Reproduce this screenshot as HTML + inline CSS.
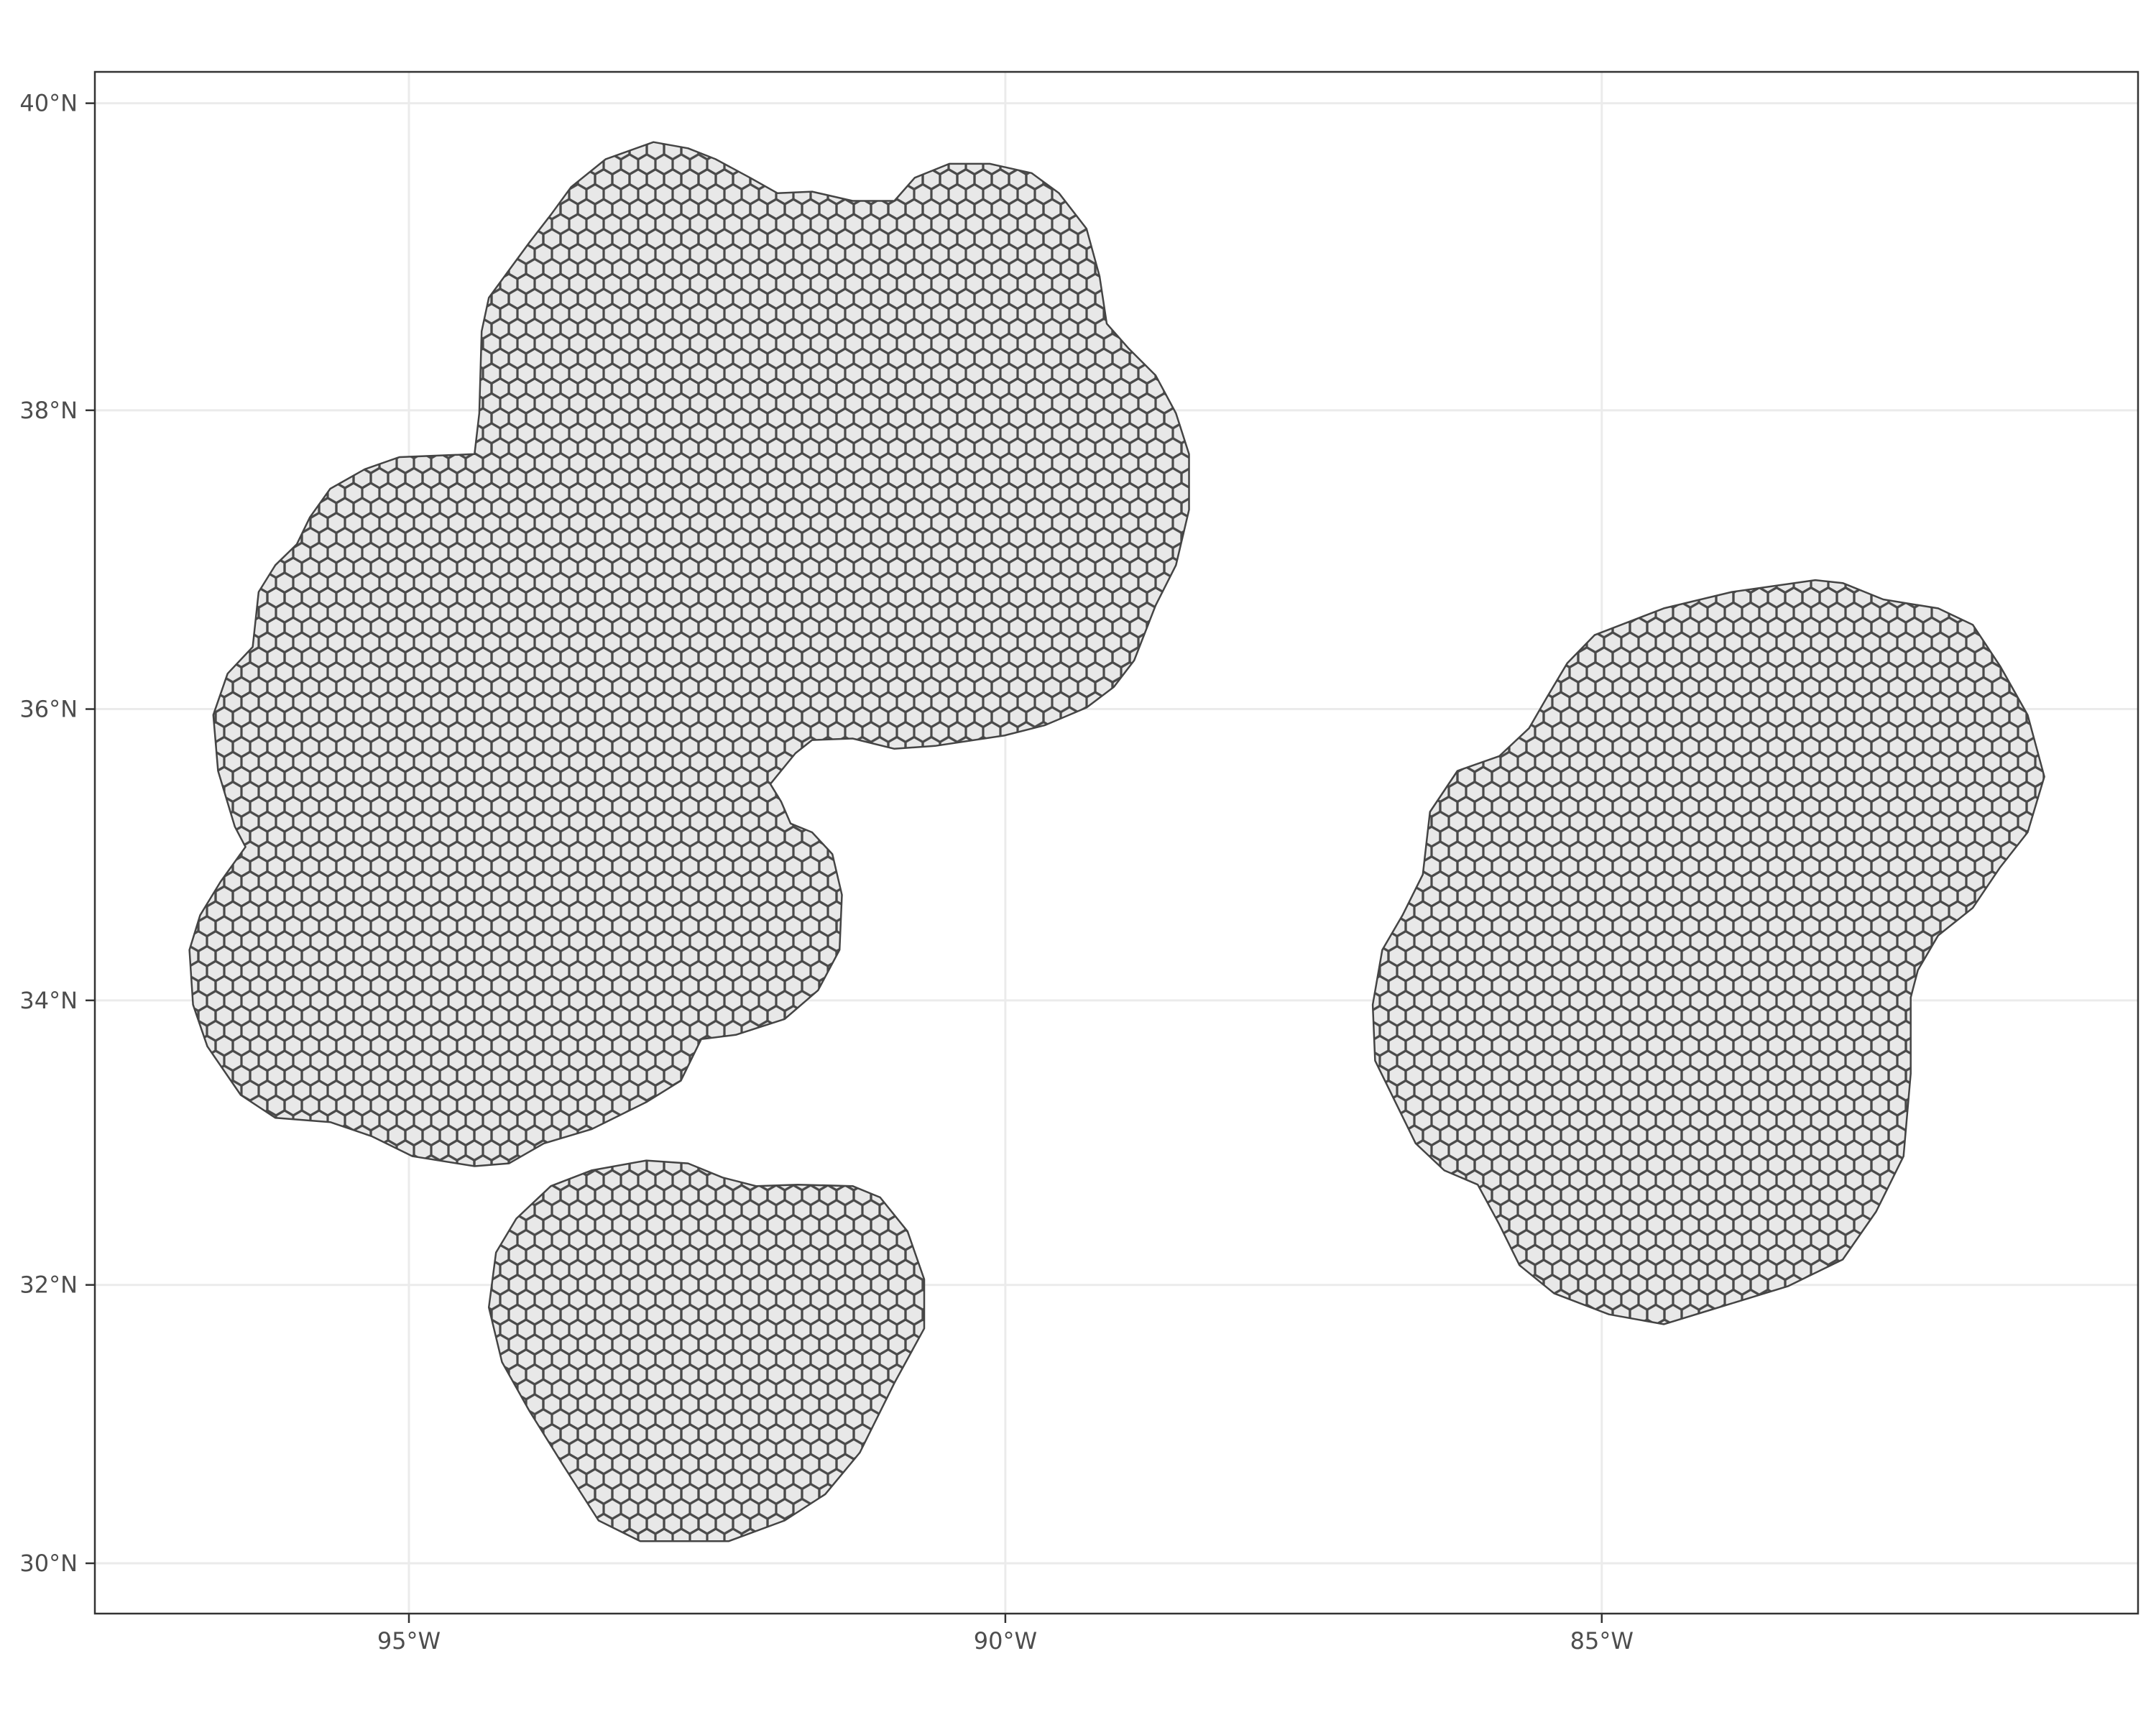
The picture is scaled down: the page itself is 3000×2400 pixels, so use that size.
<!DOCTYPE html>
<html><head><meta charset="utf-8"><style>
html,body{margin:0;padding:0;background:#fff;}
svg{display:block;font-family:"DejaVu Sans","Liberation Sans",sans-serif;}
</style></head><body>
<svg id="chart" width="3000" height="2400" viewBox="0 0 3000 2400" xmlns="http://www.w3.org/2000/svg">
<defs>
<pattern id="hexpat" patternUnits="userSpaceOnUse" width="24" height="41.57">
<rect width="24" height="41.57" fill="#e8e8e8"/>
<g fill="none" stroke="#4a4a4a" stroke-width="3.2">
<path id="hx" d="M0,-13.86 L12,-6.93 L12,6.93 L0,13.86 L-12,6.93 L-12,-6.93 Z"/>
<use href="#hx" x="24" y="0"/>
<use href="#hx" x="12" y="20.78"/>
<use href="#hx" x="0" y="41.57"/>
<use href="#hx" x="24" y="41.57"/>
</g>
</pattern>
</defs>
<rect width="3000" height="2400" fill="#fff"/>
<g id="grid"></g>
<g id="regions"></g>
<rect x="132" y="100" width="2843" height="2145" fill="none" stroke="#333" stroke-width="2.5"/>
<g id="axes"></g>
</svg>
<script>
const latTicks = [30, 32, 34, 36, 38, 40];
const latLabels = ["30°N","32°N","34°N","36°N","38°N","40°N"];
const lonTicks = [-95, -90, -85];
const lonLabels = ["95°W","90°W","85°W"];

const region1Lon = [-92.95,-93.35,-93.64,-93.81,-93.99,-94.16,-94.33,-94.39,-94.41,-94.45,-95.08,-95.37,-95.66,-95.83,-95.94,-96.12,-96.26,-96.31,-96.52,-96.64,-96.60,-96.46,-96.37,-96.58,-96.75,-96.84,-96.81,-96.69,-96.41,-96.12,-95.66,-95.31,-94.97,-94.45,-94.16,-93.87,-93.47,-93.01,-92.72,-92.55,-92.26,-91.85,-91.57,-91.39,-91.37,-91.45,-91.62,-91.80,-91.88,-91.97,-91.76,-91.62,-91.28,-90.93,-90.59,-90.01,-89.67,-89.32,-89.09,-88.92,-88.74,-88.57,-88.46,-88.46,-88.57,-88.74,-88.97,-89.15,-89.21,-89.32,-89.55,-89.78,-90.13,-90.47,-90.76,-90.93,-91.28,-91.62,-91.91,-92.14,-92.43,-92.66];
const region1Lat = [39.75,39.64,39.46,39.28,39.10,38.92,38.74,38.52,37.98,37.71,37.69,37.61,37.48,37.29,37.11,36.97,36.79,36.42,36.24,35.96,35.58,35.20,35.06,34.82,34.59,34.35,33.97,33.68,33.34,33.18,33.15,33.05,32.91,32.84,32.86,33.00,33.10,33.29,33.44,33.73,33.76,33.87,34.07,34.35,34.73,35.01,35.16,35.22,35.37,35.49,35.70,35.79,35.80,35.73,35.75,35.82,35.89,36.01,36.15,36.33,36.70,36.97,37.34,37.71,37.98,38.23,38.41,38.57,38.88,39.19,39.42,39.55,39.61,39.61,39.52,39.37,39.37,39.43,39.42,39.52,39.64,39.71];
const region2Lon = [-93.01,-93.47,-93.81,-94.10,-94.27,-94.33,-94.22,-93.99,-93.70,-93.41,-93.06,-92.32,-91.85,-91.51,-91.22,-90.93,-90.68,-90.68,-90.82,-91.05,-91.28,-91.74,-92.09,-92.37,-92.66];
const region2Lat = [32.88,32.81,32.70,32.47,32.23,31.84,31.45,31.10,30.70,30.31,30.16,30.16,30.31,30.50,30.80,31.30,31.69,32.04,32.38,32.62,32.70,32.71,32.70,32.76,32.86];
const region3Lon = [-83.21,-83.91,-84.48,-85.06,-85.29,-85.46,-85.61,-85.86,-86.21,-86.44,-86.50,-86.67,-86.84,-86.92,-86.90,-86.73,-86.56,-86.32,-86.04,-85.86,-85.69,-85.40,-84.94,-84.48,-84.02,-83.44,-82.98,-82.70,-82.47,-82.41,-82.41,-82.35,-82.18,-81.89,-81.66,-81.43,-81.29,-81.43,-81.66,-81.89,-82.18,-82.64,-82.98];
const region3Lat = [36.87,36.79,36.68,36.50,36.31,36.08,35.87,35.68,35.58,35.30,34.87,34.59,34.35,33.97,33.58,33.29,33.00,32.81,32.71,32.43,32.14,31.94,31.79,31.72,31.84,31.99,32.18,32.52,32.91,33.49,34.02,34.21,34.45,34.64,34.92,35.16,35.54,35.96,36.29,36.57,36.68,36.74,36.85];

const NS = "http://www.w3.org/2000/svg";
const PX_PER_RAD = 9510;
function merc(lat){ return Math.log(Math.tan(Math.PI/4 + lat*Math.PI/360)); }
function xScale(lon){ return 569 + (lon + 95) * PX_PER_RAD * Math.PI/180; }
function yScale(lat){ return 2175 - (merc(lat) - merc(30)) * PX_PER_RAD; }
function mk(tag, attrs, parent){ const e=document.createElementNS(NS,tag); for(const k in attrs) e.setAttribute(k,attrs[k]); parent.appendChild(e); return e; }

const grid=document.getElementById('grid'), axes=document.getElementById('axes'), regions=document.getElementById('regions');
latTicks.forEach((lat,i)=>{
  const y=yScale(lat);
  const g=mk('line',{x1:132,x2:2975,y1:y,y2:y,stroke:'#ebebeb','stroke-width':3},grid);
  
  
  const t=mk('line',{x1:119,x2:132,y1:y,y2:y,stroke:'#333','stroke-width':2.5},axes);
  
  
  const l=mk('text',{x:108,y:y+11,'text-anchor':'end','font-size':32,fill:'#4d4d4d'},axes);
  l.textContent=latLabels[i];
  
  
});
lonTicks.forEach((lon,i)=>{
  const x=xScale(lon);
  const g=mk('line',{x1:x,x2:x,y1:100,y2:2245,stroke:'#ebebeb','stroke-width':3},grid);
  
  
  const t=mk('line',{x1:x,x2:x,y1:2245,y2:2258,stroke:'#333','stroke-width':2.5},axes);
  
  
  const l=mk('text',{x:x,y:2294,'text-anchor':'middle','font-size':32,fill:'#4d4d4d'},axes);
  l.textContent=lonLabels[i];
  
  
});
[[region1Lon,region1Lat,'region-northwest'],[region2Lon,region2Lat,'region-south-central'],[region3Lon,region3Lat,'region-east']].forEach(([lo,la,name])=>{
  const d=lo.map((v,i)=>(i?'L':'M')+xScale(v).toFixed(1)+','+yScale(la[i]).toFixed(1)).join(' ')+' Z';
  const p=mk('path',{d:d,fill:'url(#hexpat)',stroke:'#444','stroke-width':2.5,'stroke-linejoin':'round'},regions);
  
  
});
</script>
</body></html>
